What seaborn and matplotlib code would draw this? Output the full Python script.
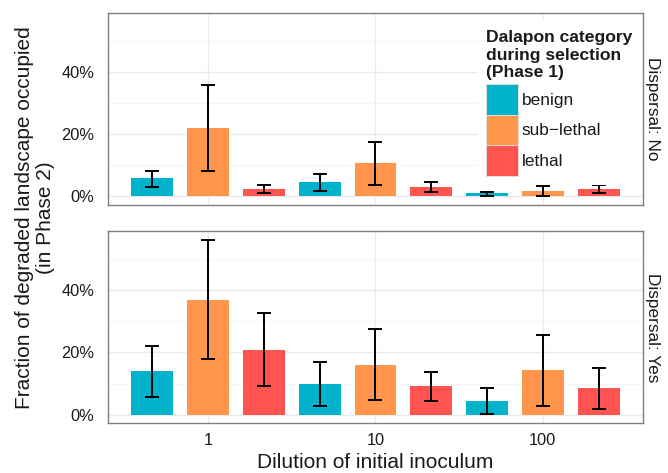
import matplotlib
matplotlib.use("Agg")
import matplotlib.pyplot as plt
from matplotlib.patches import Patch
from matplotlib.ticker import PercentFormatter, MultipleLocator
import seaborn as sns
import pandas as pd

dilutions = ["1", "10", "100"]
categories = ["benign", "sub\u2212lethal", "lethal"]
colors = ["#00B2CA", "#FF964C", "#FF5450"]
panels = ["No", "Yes"]

# values in %, ordered by dilution (1, 10, 100) then category
mean_no = [5.7, 22.0, 2.1, 4.4, 10.5, 2.8, 0.9, 1.5, 2.1]
lo_no = [3.0, 7.9, 0.9, 1.5, 3.5, 1.3, 0.0, 0.0, 0.9]
hi_no = [8.1, 35.8, 3.5, 7.0, 17.3, 4.5, 1.4, 3.1, 3.5]
mean_yes = [13.9, 37.0, 20.9, 9.7, 16.1, 9.1, 4.3, 14.2, 8.4]
lo_yes = [5.7, 17.8, 9.2, 2.8, 4.8, 4.5, 0.1, 2.8, 1.7]
hi_yes = [22.2, 56.2, 32.8, 16.8, 27.7, 13.7, 8.4, 25.6, 15.1]


def build(mean, lo, hi):
    dil = [d for d in dilutions for _ in categories]
    cat = categories * len(dilutions)
    return pd.DataFrame({"dilution": dil, "category": cat,
                         "fraction": mean, "lo": lo, "hi": hi})


data = {"No": build(mean_no, lo_no, hi_no),
        "Yes": build(mean_yes, lo_yes, hi_yes)}

sns.set_theme(style="white")
plt.rcParams["font.family"] = ["Liberation Sans", "DejaVu Sans"]
plt.rcParams["text.color"] = "#1a1a1a"

fig, axes = plt.subplots(2, 1, figsize=(6.68, 4.73), dpi=100, sharex=True, sharey=True)
fig.subplots_adjust(left=0.1612, right=0.963, top=0.9732, bottom=0.1051, hspace=0.139)

for ax, panel in zip(axes, panels):
    sub = data[panel]
    sns.barplot(data=sub, x="dilution", y="fraction", hue="category",
                order=dilutions, hue_order=categories, palette=colors,
                saturation=1, width=1.0, gap=0.25, errorbar=None,
                legend=False, linewidth=0, ax=ax, zorder=2)
    for cat, bars in zip(categories, ax.containers):
        rows = sub[sub["category"] == cat].set_index("dilution").loc[dilutions]
        xs = [b.get_x() + b.get_width() / 2 for b in bars]
        ax.errorbar(xs, rows["fraction"],
                    yerr=[rows["fraction"] - rows["lo"], rows["hi"] - rows["fraction"]],
                    fmt="none", ecolor="black", elinewidth=1.4, capsize=5.3,
                    capthick=1.4, zorder=3)

    ax.set_xlim(-0.6, 2.6)
    ax.set_ylim(-2.81, 59.0)
    ax.yaxis.set_major_locator(MultipleLocator(20))
    ax.yaxis.set_minor_locator(MultipleLocator(10))
    ax.yaxis.set_major_formatter(PercentFormatter(xmax=100, decimals=0))
    ax.set_axisbelow(True)
    ax.grid(which="major", color="#EBEBEB", lw=1.0)
    ax.grid(which="minor", axis="y", color="#F5F5F5", lw=0.7)
    ax.tick_params(which="minor", length=0)
    ax.tick_params(which="major", length=5, width=0.8, color="#333333",
                   labelsize=11.8, labelcolor="#1a1a1a")
    ax.tick_params(axis="y", pad=4.5)
    ax.tick_params(axis="x", pad=2)
    for s in ax.spines.values():
        s.set_color("#7F7F7F")
        s.set_linewidth(1.0)
    ax.set_xlabel("")
    ax.set_ylabel("")
    ax.text(1.018, 0.5, "Dispersal: " + panel, transform=ax.transAxes,
            rotation=270, ha="center", va="center", fontsize=12.4)

axes[0].tick_params(axis="x", length=0)

handles = [Patch(facecolor=c, edgecolor="#E3E3E3", linewidth=0.6) for c in colors]
leg = axes[0].legend(handles, categories,
                     title="Dalapon category\nduring selection\n(Phase 1)",
                     loc="upper left", bbox_to_anchor=(477.5 / 668, 1 - 21.5 / 473),
                     bbox_transform=fig.transFigure, borderaxespad=0, borderpad=0.5,
                     frameon=True, fancybox=False, framealpha=1, facecolor="white",
                     edgecolor="none", fontsize=12.4,
                     title_fontproperties={"weight": "bold", "size": 12.6},
                     handlelength=1.84, handleheight=2.36, handletextpad=0.215,
                     labelspacing=0, alignment="left")
leg.get_title().set_linespacing(1.2)
leg._legend_box.sep = 3

fig.text(375.5 / 668, 0.6 / 473, "Dilution of initial inoculum",
         ha="center", va="bottom", fontsize=15)
fig.text(35 / 668, 1 - 218 / 473,
         "Fraction of degraded landscape occupied\n(in Phase 2)",
         rotation=90, ha="center", va="center", multialignment="center",
         fontsize=15, linespacing=1.15)

fig.savefig("out.png", dpi=100)
